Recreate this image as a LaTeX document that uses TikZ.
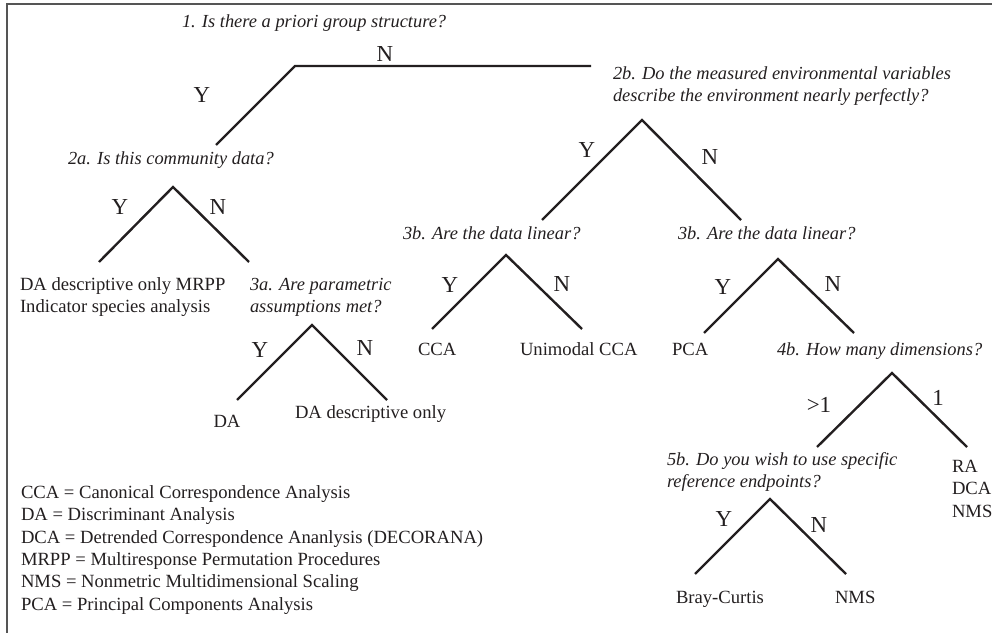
\documentclass[tikz,border=0pt]{standalone}
\usepackage{fontspec}
\setmainfont{Liberation Serif}
\definecolor{ink}{RGB}{35,31,32}
\definecolor{frame}{RGB}{85,85,85}
\begin{document}
\begin{tikzpicture}[x=1bp,y=-1bp,
  every node/.style={inner sep=0pt, outer sep=0pt, text=ink},
  txt/.style={font=\fontsize{18.7}{22}\selectfont, anchor=base west},
  qtxt/.style={font=\fontsize{18.5}{22}\selectfont\itshape, anchor=base west},
  yn/.style={font=\fontsize{23}{26}\selectfont, anchor=base},
  branch/.style={draw=ink, line width=2.4bp, line join=miter},
  framebox/.style={draw=frame, line width=1.6bp}]
\useasboundingbox (0,0) rectangle (992,633);
% frame
\coordinate (fbl) at (7,633); \coordinate (ftl) at (7,4); \coordinate (ftr) at (992,4);
\draw[framebox] (fbl) -- (ftl) -- (ftr);

% questions
\node[qtxt] (q1) at (182,28) {1. Is there a priori group structure?};
\node[qtxt] (q2a) at (68,165) {2a. Is this community data?};
\node[qtxt] (q2b1) at (613,80) {2b. Do the measured environmental variables};
\node[qtxt] (q2b2) at (613,102) {describe the environment nearly perfectly?};
\node[qtxt] (q3a1) at (250,291) {3a. Are parametric};
\node[qtxt] (q3a2) at (250,312) {assumptions met?};
\node[qtxt] (q3bl) at (403,240) {3b. Are the data linear?};
\node[qtxt] (q3br) at (678,240) {3b. Are the data linear?};
\node[qtxt] (q4b) at (777,355) {4b. How many dimensions?};
\node[qtxt] (q5b1) at (667,465) {5b. Do you wish to use specific};
\node[qtxt] (q5b2) at (667,487) {reference endpoints?};

% results
\node[txt] (r1a) at (20,291) {DA descriptive only MRPP};
\node[txt] (r1b) at (20,312) {Indicator species analysis};
\node[txt, anchor=base] (rda) at (227,427) {DA};
\node[txt] (rdad) at (295,418) {DA descriptive only};
\node[txt] (rcca) at (418,355) {CCA};
\node[txt] (rucca) at (520,355) {Unimodal CCA};
\node[txt] (rpca) at (672,355) {PCA};
\node[txt] (rbc) at (676,603) {Bray-Curtis};
\node[txt] (rnms) at (835,603) {NMS};
\node[txt] (rra) at (952,472) {RA};
\node[txt] (rdca) at (952,494) {DCA};
\node[txt] (rnms2) at (952,517) {NMS};

% legend
\node[txt] (l1) at (21,498) {CCA = Canonical Correspondence Analysis};
\node[txt] (l2) at (21,520) {DA = Discriminant Analysis};
\node[txt] (l3) at (21,543) {DCA = Detrended Correspondence Ananlysis (DECORANA)};
\node[txt] (l4) at (21,565) {MRPP = Multiresponse Permutation Procedures};
\node[txt] (l5) at (21,587) {NMS = Nonmetric Multidimensional Scaling};
\node[txt] (l6) at (21,610) {PCA = Principal Components Analysis};

% Y/N labels
\node[yn] (n1) at (385,62) {N};
\node[yn] (y1) at (202,103) {Y};
\node[yn] (y2a) at (120,215) {Y};
\node[yn] (n2a) at (218,215) {N};
\node[yn] (y2b) at (587,158) {Y};
\node[yn] (n2b) at (710,165) {N};
\node[yn] (y3a) at (260,357) {Y};
\node[yn] (n3a) at (365,355) {N};
\node[yn] (y3bl) at (450,293) {Y};
\node[yn] (n3bl) at (562,292) {N};
\node[yn] (y3br) at (723,295) {Y};
\node[yn] (n3br) at (833,292) {N};
\node[yn] (g4b) at (819,412) {>1};
\node[yn] (o4b) at (938,405) {1};
\node[yn] (y5b) at (724,526) {Y};
\node[yn] (n5b) at (819,532) {N};

% branch points
\coordinate (a1) at (295,66); \coordinate (a1y) at (216,145); \coordinate (a1n) at (591,66);
\coordinate (a2a) at (173,187); \coordinate (a2ay) at (99,262); \coordinate (a2an) at (249,262);
\coordinate (a2b) at (642,120); \coordinate (a2by) at (542,220); \coordinate (a2bn) at (741,220);
\coordinate (a3a) at (312,325); \coordinate (a3ay) at (237,400); \coordinate (a3an) at (387,400);
\coordinate (a3bl) at (506,255); \coordinate (a3bly) at (432,329); \coordinate (a3bln) at (582,329);
\coordinate (a3br) at (778,259); \coordinate (a3bry) at (704,333); \coordinate (a3brn) at (854,333);
\coordinate (a4b) at (892,373); \coordinate (a4bg) at (817,447); \coordinate (a4bo) at (967,447);
\coordinate (a5b) at (770,499); \coordinate (a5by) at (695,574); \coordinate (a5bn) at (846,574);

\draw[branch] (a1y) -- (a1) -- (a1n);
\draw[branch] (a2ay) -- (a2a) -- (a2an);
\draw[branch] (a2by) -- (a2b) -- (a2bn);
\draw[branch] (a3ay) -- (a3a) -- (a3an);
\draw[branch] (a3bly) -- (a3bl) -- (a3bln);
\draw[branch] (a3bry) -- (a3br) -- (a3brn);
\draw[branch] (a4bg) -- (a4b) -- (a4bo);
\draw[branch] (a5by) -- (a5b) -- (a5bn);
\end{tikzpicture}
\end{document}
